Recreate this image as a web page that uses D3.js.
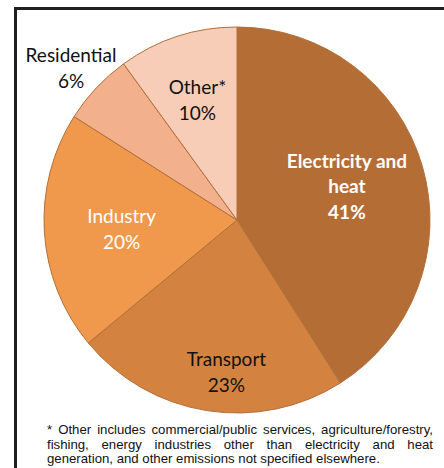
<!DOCTYPE html>
<html>
<head>
<script src="https://d3js.org/d3.v7.min.js"></script>
<style>
  body { margin: 0; background: #fff; font-family: Lato, sans-serif; }
  #chart { position: relative; width: 444px; height: 468px; overflow: hidden; }
  .note {
    position: absolute;
    left: 47px;
    top: 423px;
    width: 386px;
    font-family: "Liberation Sans", Arial, sans-serif;
    font-size: 13.2px;
    line-height: 14.6px;
    color: #111;
  }
  .note div { text-align: justify; text-align-last: justify; white-space: nowrap; }
  .note div.last { text-align-last: left; }
</style>
</head>
<body>
<div id="chart"></div>
<script>
  // sectors, clockwise from 12 o'clock
  var sectors = ["Electricity and heat", "Transport", "Industry", "Residential", "Other*"];
  var shares = [41, 23, 20, 6, 10];
  var labelLines = [["Electricity and", "heat", "41%"], ["Transport", "23%"], ["Industry", "20%"], ["Residential", "6%"], ["Other*", "10%"]];
  var colors = ["#b46d34", "#d3833f", "#f0994d", "#f2b18c", "#f8cdb8"];
  var textColors = ["#fff", "#111", "#fff", "#111", "#111"];
  var footnoteLines = [
    "* Other includes commercial/public services, agriculture/forestry,",
    "fishing, energy industries other than electricity and heat",
    "generation, and other emissions not specified elsewhere."
  ];

  var cx = 237, cy = 220, r = 193;

  var svg = d3.select("#chart").append("svg")
      .attr("width", 444)
      .attr("height", 468);

  // frame (cut at right and bottom)
  svg.append("path")
      .attr("d", "M15.5,470 V8.5 H450")
      .attr("fill", "none")
      .attr("stroke", "#1f1f1f")
      .attr("stroke-width", 3);

  var data = sectors.map(function(s, i) {
    return { name: s, value: shares[i], i: i };
  });

  var pie = d3.pie().sort(null).value(function(d) { return d.value; });
  var arcs = pie(data);
  var arc = d3.arc().innerRadius(0).outerRadius(r);

  var g = svg.append("g").attr("transform", "translate(" + cx + "," + cy + ")");

  g.selectAll("path.slice")
      .data(arcs)
      .enter()
      .append("path")
      .attr("class", "slice")
      .attr("d", arc)
      .attr("fill", function(d) { return colors[d.data.i]; })
      .attr("stroke", "#b1703a")
      .attr("stroke-width", 1);

  // label anchor points, as radius fraction per slice
  var labelRadius = [0.62, 0.78, 0.63, 1.13, 0.63];
  var labelShift = [[-5, 0], [13, 4], [6, 2], [-7, -2], [-2, -4]];
  var fontSize = 19;

  arcs.forEach(function(a) {
    var i = a.data.i;
    var mid = (a.startAngle + a.endAngle) / 2;
    var lr = r * labelRadius[i];
    var x = lr * Math.sin(mid) + labelShift[i][0];
    var y = -lr * Math.cos(mid) + labelShift[i][1];
    var lines = labelLines[i];
    var t = g.append("text")
        .attr("text-anchor", "middle")
        .attr("fill", textColors[i])
        .attr("font-size", fontSize)
        .attr("font-weight", i === 0 ? "bold" : "normal");
    lines.forEach(function(l, k) {
      t.append("tspan")
          .attr("x", x)
          .attr("y", y + (k - (lines.length - 1) / 2) * 25.5 + 6.5)
          .text(l);
    });
  });

  d3.select("#chart").append("div")
      .attr("class", "note")
      .selectAll("div")
      .data(footnoteLines)
      .enter()
      .append("div")
      .attr("class", function(d, i) { return i === footnoteLines.length - 1 ? "last" : null; })
      .text(function(d) { return d; });
</script>
</body>
</html>
